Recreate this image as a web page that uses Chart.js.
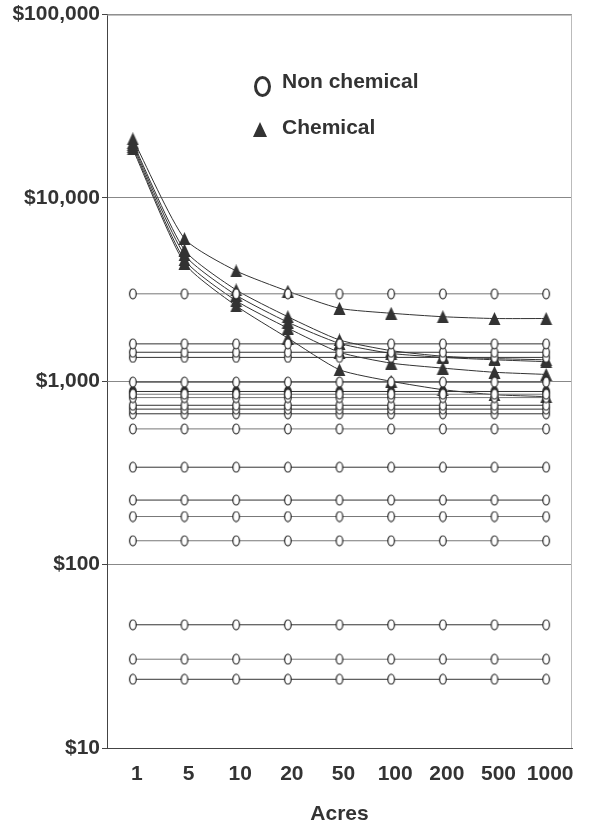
<!DOCTYPE html>
<html>
<head>
<meta charset="utf-8">
<script src="https://cdn.jsdelivr.net/npm/chart.js@4"></script>
<style>
  html, body { margin: 0; padding: 0; background: #fff; }
  #wrap { position: relative; width: 605px; height: 827px; }
  canvas { position: absolute; left: 0; top: 0; }
  .lg { position: absolute; font-family: "Liberation Sans", Arial, sans-serif; font-weight: bold; font-size: 21px; line-height: 21px; color: #333; white-space: nowrap; }
  .circ { position: absolute; box-sizing: border-box; width: 17px; height: 21px; border: 3px solid #333; border-radius: 50%; background: #fff; }
  .tri { position: absolute; width: 0; height: 0; border-left: 7.5px solid transparent; border-right: 7.5px solid transparent; border-bottom: 15px solid #333; }
</style>
</head>
<body>
<div id="wrap">
  <canvas id="c" width="605" height="827"></canvas>
  <div class="circ" style="left:254px; top:76px;"></div>
  <div class="lg" style="left:282px; top:70px;">Non chemical</div>
  <div class="tri" style="left:253px; top:122px;"></div>
  <div class="lg" style="left:282px; top:116px;">Chemical</div>
</div>
<script>
// ---- data ----
const categories = ['1', '5', '10', '20', '50', '100', '200', '500', '1000'];
const yTickValues = [10, 100, 1000, 10000, 100000];

// Non chemical (flat) series
const nonChem01 = [3000, 3000, 3000, 3000, 3000, 3000, 3000, 3000, 3000];
const nonChem02 = [1600, 1600, 1600, 1600, 1600, 1600, 1600, 1600, 1600];
const nonChem03 = [1440, 1440, 1440, 1440, 1440, 1440, 1440, 1440, 1440];
const nonChem04 = [1350, 1350, 1350, 1350, 1350, 1350, 1350, 1350, 1350];
const nonChem05 = [990, 990, 990, 990, 990, 990, 990, 990, 990];
const nonChem06 = [850, 850, 850, 850, 850, 850, 850, 850, 850];
const nonChem07 = [815, 815, 815, 815, 815, 815, 815, 815, 815];
const nonChem08 = [740, 740, 740, 740, 740, 740, 740, 740, 740];
const nonChem09 = [705, 705, 705, 705, 705, 705, 705, 705, 705];
const nonChem10 = [665, 665, 665, 665, 665, 665, 665, 665, 665];
const nonChem11 = [550, 550, 550, 550, 550, 550, 550, 550, 550];
const nonChem12 = [340, 340, 340, 340, 340, 340, 340, 340, 340];
const nonChem13 = [225, 225, 225, 225, 225, 225, 225, 225, 225];
const nonChem14 = [183, 183, 183, 183, 183, 183, 183, 183, 183];
const nonChem15 = [135, 135, 135, 135, 135, 135, 135, 135, 135];
const nonChem16 = [47, 47, 47, 47, 47, 47, 47, 47, 47];
const nonChem17 = [30.5, 30.5, 30.5, 30.5, 30.5, 30.5, 30.5, 30.5, 30.5];
const nonChem18 = [23.7, 23.7, 23.7, 23.7, 23.7, 23.7, 23.7, 23.7, 23.7];
const nonChemDark = [880, 880, 880, 880, 880, 880, 880, 880, 880];

// Chemical series
const chem1 = [21000, 6000, 4000, 3100, 2500, 2350, 2250, 2200, 2200];
const chem2 = [20000, 5200, 3150, 2250, 1680, 1470, 1370, 1330, 1310];
const chem3 = [19500, 4900, 2950, 2100, 1610, 1420, 1350, 1310, 1280];
const chem4 = [19000, 4600, 2750, 1950, 1440, 1256, 1180, 1120, 1090];
const chem5 = [18500, 4400, 2580, 1720, 1156, 1000, 900, 845, 825];

const nonChemSeries = [nonChem01, nonChem02, nonChem03, nonChem04, nonChem05, nonChem06,
  nonChem07, nonChem08, nonChem09, nonChem10, nonChem11, nonChem12, nonChem13, nonChem14,
  nonChem15, nonChem16, nonChem17, nonChem18];
const chemSeries = [chem1, chem2, chem3, chem4, chem5];

// ---- marker images ----
function ellipseMarker(fill) {
  const c = document.createElement('canvas');
  c.width = 10; c.height = 12;
  const g = c.getContext('2d');
  g.beginPath();
  g.ellipse(5, 6, 3.3, 5, 0, 0, Math.PI * 2);
  g.fillStyle = fill; g.fill();
  g.lineWidth = 1.2; g.strokeStyle = '#222'; g.stroke();
  return c;
}
function triangleMarker() {
  const c = document.createElement('canvas');
  c.width = 13; c.height = 13;
  const g = c.getContext('2d');
  g.beginPath();
  g.moveTo(6.5, 0); g.lineTo(12.5, 13); g.lineTo(0.5, 13); g.closePath();
  g.fillStyle = '#333'; g.fill();
  return c;
}
const openCircle = ellipseMarker('#fff');
const darkCircle = ellipseMarker('#333');
const tri = triangleMarker();

const lineShades = ['#777', '#333', '#333', '#333', '#333', '#777', '#777', '#333', '#333',
  '#333', '#777', '#333', '#333', '#777', '#777', '#333', '#777', '#333'];

const datasets = [];
nonChemSeries.forEach((d, i) => {
  datasets.push({ label: 'Non chemical', data: d, borderColor: lineShades[i], borderWidth: 1,
    pointStyle: openCircle, pointRadius: 5, pointHoverRadius: 5, tension: 0 });
});
datasets.push({ label: 'Non chemical', data: nonChemDark, borderColor: '#333', borderWidth: 1,
  pointStyle: darkCircle, pointRadius: 5, pointHoverRadius: 5, tension: 0 });
chemSeries.forEach((d) => {
  datasets.push({ label: 'Chemical', data: d, borderColor: '#333', borderWidth: 1,
    pointStyle: tri, pointRadius: 6, pointHoverRadius: 6, tension: 0.2 });
});

const frame = {
  id: 'frame',
  afterDatasetsDraw(chart) {
    const { ctx, chartArea: a } = chart;
    ctx.save();
    ctx.lineWidth = 1;
    ctx.strokeStyle = '#999';
    ctx.beginPath();
    ctx.moveTo(a.left, a.top + 0.5); ctx.lineTo(a.right, a.top + 0.5);
    ctx.stroke();
    ctx.strokeStyle = '#bbb';
    ctx.beginPath();
    ctx.moveTo(a.right - 0.5, a.top); ctx.lineTo(a.right - 0.5, a.bottom);
    ctx.stroke();
    ctx.restore();
  }
};

const tickFont = { family: '"Liberation Sans", Arial, sans-serif', weight: 'bold', size: 21 };

new Chart(document.getElementById('c'), {
  type: 'line',
  data: { labels: categories, datasets },
  options: {
    responsive: false,
    animation: false,
    events: [],
    layout: { padding: { top: 12, right: 33, bottom: 0, left: 0 } },
    plugins: { legend: { display: false }, tooltip: { enabled: false } },
    scales: {
      x: {
        type: 'category',
        offset: true,
        grid: { display: false, drawTicks: false },
        border: { display: true, color: '#444', width: 1 },
        ticks: { font: tickFont, color: '#333', padding: 14, maxRotation: 0, autoSkip: false, labelOffset: 4 },
        title: { display: true, text: 'Acres', font: { family: '"Liberation Sans", Arial, sans-serif', weight: 'bold', size: 21 }, color: '#333', padding: { top: 0, bottom: 0 } },
        afterFit(s) { s.height = 79; }
      },
      y: {
        type: 'logarithmic',
        min: 10,
        max: 100000,
        afterBuildTicks(s) { s.ticks = yTickValues.map(v => ({ value: v, major: true })); },
        grid: { color: '#888', lineWidth: 1, drawTicks: true, tickLength: 5, tickColor: '#444' },
        border: { display: true, color: '#444', width: 1 },
        ticks: { font: tickFont, color: '#333', padding: 2, callback: v => '$' + Number(v).toLocaleString('en-US') },
        afterFit(s) { s.width = 107; }
      }
    }
  },
  plugins: [frame]
});
</script>
</body>
</html>
